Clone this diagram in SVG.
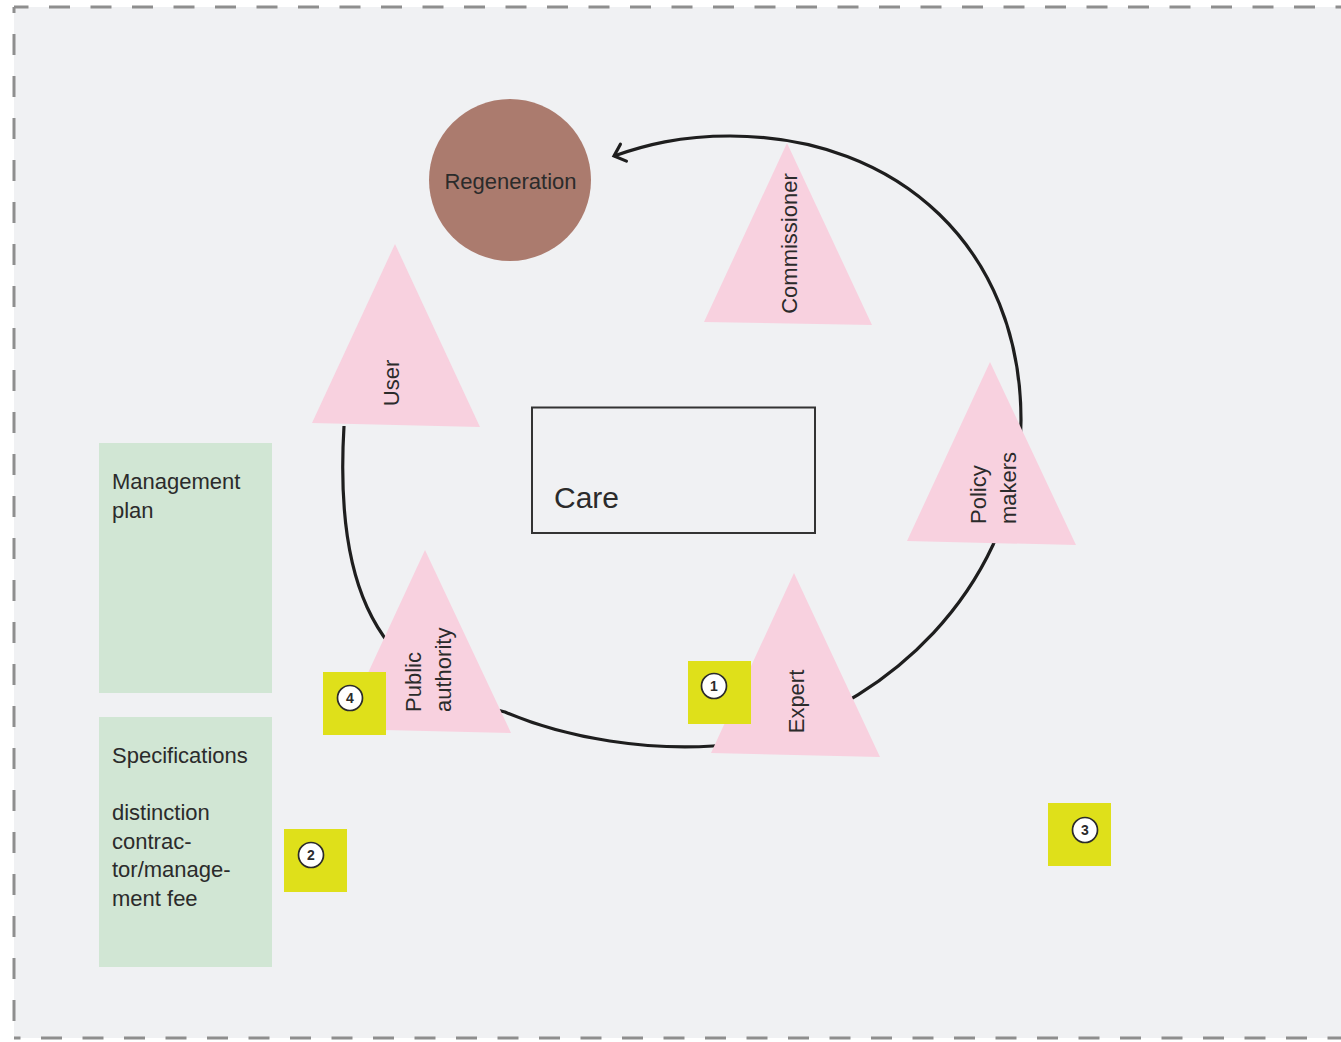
<svg xmlns="http://www.w3.org/2000/svg" width="1341" height="1042" viewBox="0 0 1341 1042">
  <defs>
    <style>
      .txt { font-family: "Liberation Sans", Arial, Helvetica, sans-serif; fill: #2b2b2b; }
      .lbl { font-size: 22px; }
      .tri { fill: #f8d1df; }
      .note { fill: #d1e6d4; }
      .badge { fill: #dfe01a; }
      .num { fill: #ffffff; stroke: #2b2b2b; stroke-width: 1.7; }
      .numt { font-family: "Liberation Sans", Arial, sans-serif; font-size: 14px; font-weight: bold; fill: #2b2b2b; text-anchor: middle; }
      .border { stroke: #8e8e8e; stroke-width: 3; fill: none; }
    </style>
    <marker id="arrow" markerUnits="userSpaceOnUse" markerWidth="30" markerHeight="30" viewBox="-15 -15 30 30" refX="0" refY="0" orient="auto">
      <path d="M -10 -9 L 0 0 L -10 9" fill="none" stroke="#1e1e1e" stroke-width="3.2" stroke-linecap="round" stroke-linejoin="miter"/>
    </marker>
  </defs>

  <rect x="0" y="0" width="1341" height="1042" fill="#ffffff"/>
  <rect x="14" y="7" width="1340" height="1031" fill="#f0f1f3"/>
  <g id="frame">
    <line class="border" x1="14" y1="7" x2="1341" y2="7" stroke-dasharray="21 20.5" stroke-dashoffset="6.5"/>
    <line class="border" x1="14" y1="7" x2="14" y2="1038" stroke-dasharray="21 21" stroke-dashoffset="15"/>
    <line class="border" x1="14" y1="1038" x2="1341" y2="1038" stroke-dasharray="21 20.5" stroke-dashoffset="14.5"/>
  </g>

  <g id="connectors">
    <path d="M 344 426 C 336 560, 360 680, 505 712 C 570 740, 650 750, 713 746 C 790 742, 930 680, 993 545 C 1010 505, 1021 465, 1021 420 C 1021 250, 900 136, 730 136 C 680 136, 645 145, 614 156" fill="none" stroke="#1e1e1e" stroke-width="3.2" marker-end="url(#arrow)"/>
  </g>

  <g id="regeneration">
    <circle cx="510" cy="180" r="81" fill="#ab7b6e"/>
    <text class="txt lbl" x="510.5" y="189" text-anchor="middle">Regeneration</text>
  </g>

  <g id="care">
    <rect x="532" y="407.5" width="283" height="125.5" fill="none" stroke="#333333" stroke-width="2"/>
    <text class="txt" x="554" y="508" font-size="30">Care</text>
  </g>

  <g id="commissioner">
    <polygon class="tri" points="787,143 704,322 872,325"/>
    <text class="txt lbl" transform="translate(797,243.5) rotate(-90)" text-anchor="middle">Commissioner</text>
  </g>

  <g id="user">
    <polygon class="tri" points="395,244 312,423 480,427"/>
    <text class="txt lbl" transform="translate(399,383) rotate(-90)" text-anchor="middle">User</text>
  </g>

  <g id="policy-makers">
    <polygon class="tri" points="990,362 907,541 1076,545"/>
    <text class="txt lbl" transform="translate(986,524) rotate(-90)">Policy</text>
    <text class="txt lbl" transform="translate(1016,524) rotate(-90)">makers</text>
  </g>

  <g id="public-authority">
    <polygon class="tri" points="425,550 342,729 511,733"/>
    <text class="txt lbl" transform="translate(421,712) rotate(-90)">Public</text>
    <text class="txt lbl" transform="translate(451,712) rotate(-90)">authority</text>
  </g>

  <g id="expert">
    <polygon class="tri" points="794,573 711,753 880,757"/>
    <text class="txt lbl" transform="translate(804,701.5) rotate(-90)" text-anchor="middle">Expert</text>
  </g>

  <g id="management-plan">
    <rect class="note" x="99" y="443" width="173" height="250"/>
    <text class="txt lbl" x="112" y="489">Management</text>
    <text class="txt lbl" x="112" y="518">plan</text>
  </g>

  <g id="specifications">
    <rect class="note" x="99" y="717" width="173" height="250"/>
    <text class="txt lbl" x="112" y="763">Specifications</text>
    <text class="txt lbl" x="112" y="820">distinction</text>
    <text class="txt lbl" x="112" y="848.5">contrac-</text>
    <text class="txt lbl" x="112" y="877">tor/manage-</text>
    <text class="txt lbl" x="112" y="905.5">ment fee</text>
  </g>

  <g id="badge-1">
    <rect class="badge" x="688" y="661" width="63" height="63"/>
    <circle class="num" cx="714" cy="686" r="12.5"/>
    <text class="numt" x="714" y="691">1</text>
  </g>

  <g id="badge-2">
    <rect class="badge" x="284" y="829" width="63" height="63"/>
    <circle class="num" cx="311" cy="855" r="12.5"/>
    <text class="numt" x="311" y="860">2</text>
  </g>

  <g id="badge-3">
    <rect class="badge" x="1048" y="803" width="63" height="63"/>
    <circle class="num" cx="1085" cy="830" r="12.5"/>
    <text class="numt" x="1085" y="835">3</text>
  </g>

  <g id="badge-4">
    <rect class="badge" x="323" y="672" width="63" height="63"/>
    <circle class="num" cx="350" cy="698" r="12.5"/>
    <text class="numt" x="350" y="703">4</text>
  </g>
</svg>
